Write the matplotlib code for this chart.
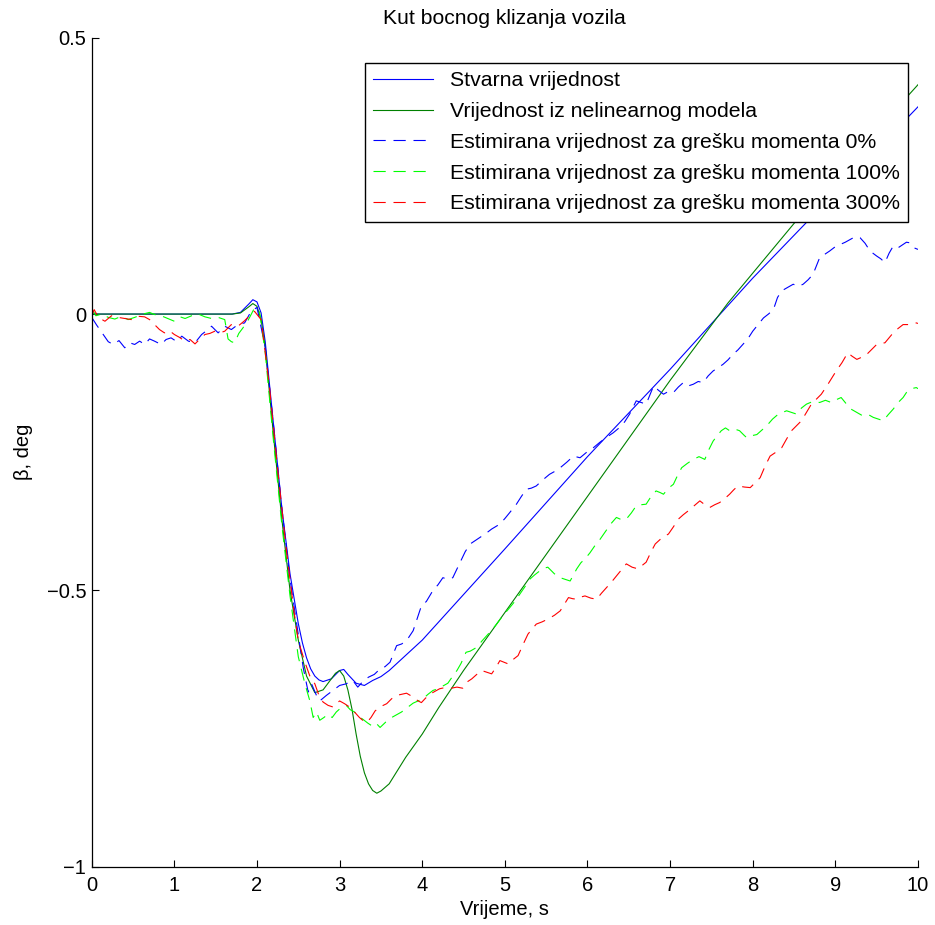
"""
Vehicle sideslip angle: true value, nonlinear model and estimates.
"""

import matplotlib

matplotlib.use("Agg")
import matplotlib.pyplot as plt

# --- solid references -------------------------------------------------------
t_true = [0.0, 1.7, 1.8, 1.9, 1.95, 2.0, 2.05, 2.1, 2.2, 2.3, 2.4, 2.5, 2.55, 2.6,
          2.65, 2.7, 2.75, 2.8, 2.9, 3.0, 3.05, 3.1, 3.2, 3.3, 3.4, 3.5, 3.6, 4.0,
          5.0, 6.0, 7.0, 8.0, 9.0, 10.0]
beta_true = [0.0, 0.0, 0.003, 0.018, 0.026, 0.022, 0.002, -0.05, -0.2, -0.35,
             -0.47, -0.56, -0.595, -0.622, -0.642, -0.655, -0.662, -0.665, -0.66,
             -0.645, -0.643, -0.652, -0.668, -0.672, -0.663, -0.656, -0.645, -0.59,
             -0.425, -0.258, -0.1, 0.065, 0.22, 0.375]

t_model = [0.0, 1.7, 1.8, 1.9, 1.95, 2.0, 2.05, 2.1, 2.2, 2.3, 2.4, 2.5, 2.6, 2.7,
           2.8, 2.9, 2.95, 3.0, 3.05, 3.1, 3.15, 3.2, 3.25, 3.3, 3.35, 3.4, 3.45,
           3.5, 3.6, 3.8, 4.0, 4.2, 4.5, 5.0, 6.0, 7.0, 7.7, 8.5, 9.0, 10.0]
beta_model = [0.0, 0.0, 0.002, 0.013, 0.019, 0.014, -0.01, -0.06, -0.22, -0.37,
              -0.5, -0.59, -0.655, -0.685, -0.68, -0.66, -0.65, -0.645, -0.655,
              -0.68, -0.715, -0.76, -0.8, -0.83, -0.85, -0.862, -0.867, -0.863,
              -0.85, -0.802, -0.76, -0.712, -0.645, -0.54, -0.33, -0.12, 0.02,
              0.164, 0.25, 0.415]

# --- estimate, moment error 0% ---------------------------------------------
t_est0 = [0.0, 0.06, 0.14, 0.2, 0.26, 0.33, 0.40, 0.46, 0.52, 0.58, 0.64, 0.70,
          0.76, 0.84, 0.90, 0.96, 1.03, 1.09, 1.17, 1.25, 1.33, 1.39, 1.45, 1.53,
          1.61, 1.69, 1.77, 1.85, 1.93, 2.0, 2.1, 2.2, 2.3, 2.4, 2.5, 2.56, 2.62,
          2.66, 2.72, 2.76, 2.84, 2.92, 3.0, 3.08, 3.16, 3.22, 3.28, 3.35, 3.42,
          3.49, 3.55, 3.61, 3.69, 3.75, 3.81, 3.89, 3.99, 4.05, 4.13, 4.19, 4.25,
          4.31, 4.37, 4.45, 4.52, 4.58, 4.64, 4.70, 4.77, 4.84, 4.94, 5.0, 5.06,
          5.14, 5.20, 5.26, 5.32, 5.38, 5.46, 5.54, 5.60, 5.67, 5.75, 5.83, 5.91,
          5.99, 6.07, 6.15, 6.23, 6.31, 6.39, 6.45, 6.51, 6.59, 6.65, 6.71, 6.80,
          6.86, 6.92, 6.98, 7.04, 7.10, 7.16, 7.22, 7.28, 7.34, 7.40, 7.46, 7.52,
          7.58, 7.64, 7.70, 7.76, 7.82, 7.88, 7.94, 8.0, 8.06, 8.13, 8.19, 8.25,
          8.30, 8.35, 8.42, 8.49, 8.55, 8.61, 8.67, 8.73, 8.81, 8.87, 8.93, 9.0,
          9.06, 9.12, 9.18, 9.24, 9.30, 9.36, 9.42, 9.50, 9.55, 9.60, 9.65, 9.70,
          9.76, 9.82, 9.86, 9.90, 9.95, 10.0]
beta_est0 = [-0.006, -0.02, -0.037, -0.05, -0.055, -0.048, -0.061, -0.052, -0.055,
             -0.049, -0.055, -0.045, -0.049, -0.055, -0.046, -0.043, -0.05, -0.04,
             -0.049, -0.052, -0.037, -0.03, -0.022, -0.034, -0.022, -0.028, -0.019,
             -0.016, 0.005, 0.012, -0.06, -0.2, -0.35, -0.48, -0.58, -0.64, -0.684,
             -0.669, -0.69, -0.70, -0.69, -0.681, -0.672, -0.669, -0.663, -0.675,
             -0.665, -0.657, -0.652, -0.642, -0.638, -0.630, -0.60, -0.597, -0.591,
             -0.573, -0.528, -0.52, -0.50, -0.49, -0.477, -0.48, -0.477, -0.452,
             -0.43, -0.416, -0.41, -0.404, -0.397, -0.389, -0.38, -0.37, -0.359,
             -0.344, -0.33, -0.317, -0.315, -0.311, -0.30, -0.29, -0.285, -0.278,
             -0.268, -0.257, -0.26, -0.25, -0.242, -0.232, -0.223, -0.215, -0.205,
             -0.195, -0.181, -0.157, -0.16, -0.163, -0.13, -0.138, -0.145, -0.14,
             -0.142, -0.132, -0.124, -0.13, -0.127, -0.122, -0.124, -0.112, -0.103,
             -0.097, -0.091, -0.083, -0.073, -0.065, -0.055, -0.045, -0.031, -0.02,
             -0.007, 0.0, 0.008, 0.03, 0.042, 0.048, 0.054, 0.05, 0.054, 0.062,
             0.072, 0.102, 0.108, 0.114, 0.122, 0.126, 0.13, 0.135, 0.14, 0.138,
             0.128, 0.114, 0.105, 0.1, 0.093, 0.11, 0.123, 0.12, 0.126, 0.13,
             0.129, 0.12, 0.117]

# --- estimate, moment error 100% -------------------------------------------
t_est100 = [0.0, 0.05, 0.12, 0.2, 0.28, 0.36, 0.44, 0.52, 0.62, 0.70, 0.78, 0.84,
            0.92, 1.0, 1.07, 1.13, 1.21, 1.29, 1.37, 1.45, 1.53, 1.61, 1.65, 1.69,
            1.73, 1.78, 1.83, 1.89, 1.97, 2.03, 2.1, 2.2, 2.3, 2.4, 2.5, 2.58,
            2.64, 2.68, 2.72, 2.76, 2.81, 2.86, 2.91, 2.96, 3.02, 3.08, 3.13, 3.18,
            3.23, 3.28, 3.34, 3.39, 3.44, 3.49, 3.56, 3.63, 3.69, 3.75, 3.82, 3.89,
            3.95, 4.01, 4.07, 4.13, 4.19, 4.25, 4.31, 4.37, 4.42, 4.47, 4.53, 4.58,
            4.66, 4.72, 4.78, 4.84, 4.90, 4.98, 5.06, 5.12, 5.18, 5.24, 5.30, 5.36,
            5.42, 5.47, 5.52, 5.60, 5.67, 5.73, 5.79, 5.87, 5.92, 5.97, 6.03, 6.09,
            6.15, 6.21, 6.28, 6.35, 6.41, 6.47, 6.53, 6.59, 6.65, 6.71, 6.77, 6.83,
            6.88, 6.92, 6.98, 7.04, 7.09, 7.14, 7.21, 7.28, 7.35, 7.42, 7.47, 7.52,
            7.57, 7.62, 7.67, 7.72, 7.78, 7.84, 7.90, 7.93, 7.99, 8.05, 8.11, 8.17,
            8.24, 8.31, 8.36, 8.41, 8.47, 8.53, 8.59, 8.65, 8.73, 8.81, 8.88, 8.95,
            9.01, 9.07, 9.13, 9.19, 9.26, 9.33, 9.40, 9.46, 9.52, 9.58, 9.64, 9.70,
            9.76, 9.82, 9.86, 9.92, 9.98, 10.0]
beta_est100 = [0.01, -0.003, 0.0, -0.006, -0.009, -0.004, -0.01, -0.006, 0.0, 0.003,
               -0.002, -0.003, -0.008, -0.013, -0.005, -0.008, -0.003, 0.0, -0.005,
               -0.008, -0.006, -0.01, -0.045, -0.05, -0.052, -0.035, -0.025, -0.012,
               0.011, 0.005, -0.07, -0.23, -0.38, -0.51, -0.62, -0.669, -0.70, -0.73,
               -0.72, -0.735, -0.73, -0.724, -0.73, -0.72, -0.712, -0.708, -0.716,
               -0.72, -0.728, -0.733, -0.74, -0.745, -0.74, -0.748, -0.738, -0.73,
               -0.725, -0.72, -0.712, -0.704, -0.70, -0.696, -0.688, -0.681, -0.678,
               -0.673, -0.668, -0.655, -0.645, -0.632, -0.612, -0.61, -0.603, -0.592,
               -0.582, -0.572, -0.561, -0.545, -0.531, -0.52, -0.507, -0.494, -0.48,
               -0.472, -0.465, -0.46, -0.458, -0.47, -0.477, -0.48, -0.483, -0.461,
               -0.45, -0.443, -0.432, -0.419, -0.408, -0.395, -0.38, -0.368, -0.372,
               -0.371, -0.36, -0.347, -0.345, -0.344, -0.33, -0.32, -0.323, -0.326,
               -0.315, -0.308, -0.292, -0.278, -0.27, -0.263, -0.258, -0.263, -0.245,
               -0.23, -0.22, -0.211, -0.206, -0.211, -0.208, -0.211, -0.22, -0.224,
               -0.22, -0.218, -0.21, -0.202, -0.19, -0.181, -0.178, -0.175, -0.178,
               -0.181, -0.17, -0.163, -0.158, -0.16, -0.156, -0.16, -0.155, -0.151,
               -0.162, -0.172, -0.178, -0.184, -0.182, -0.187, -0.19, -0.193, -0.182,
               -0.172, -0.16, -0.151, -0.142, -0.135, -0.133, -0.135]

# --- estimate, moment error 300% -------------------------------------------
t_est300 = [0.0, 0.03, 0.08, 0.16, 0.24, 0.32, 0.40, 0.48, 0.56, 0.64, 0.70, 0.76,
            0.82, 0.88, 0.94, 1.0, 1.06, 1.13, 1.19, 1.25, 1.31, 1.37, 1.43, 1.49,
            1.55, 1.61, 1.69, 1.77, 1.85, 1.93, 1.97, 2.05, 2.15, 2.25, 2.35, 2.45,
            2.50, 2.58, 2.64, 2.70, 2.75, 2.80, 2.86, 2.92, 2.96, 3.0, 3.06, 3.12,
            3.18, 3.24, 3.28, 3.33, 3.38, 3.43, 3.50, 3.57, 3.63, 3.69, 3.75, 3.81,
            3.89, 3.95, 3.99, 4.04, 4.09, 4.15, 4.21, 4.27, 4.35, 4.42, 4.49, 4.55,
            4.60, 4.66, 4.72, 4.78, 4.84, 4.89, 4.94, 4.99, 5.04, 5.10, 5.16, 5.22,
            5.28, 5.33, 5.38, 5.45, 5.52, 5.60, 5.67, 5.72, 5.77, 5.82, 5.87, 5.92,
            5.97, 6.04, 6.11, 6.17, 6.23, 6.29, 6.35, 6.41, 6.47, 6.54, 6.61, 6.66,
            6.71, 6.77, 6.82, 6.90, 6.98, 7.04, 7.10, 7.16, 7.22, 7.29, 7.36, 7.42,
            7.48, 7.54, 7.60, 7.66, 7.72, 7.77, 7.82, 7.90, 7.97, 8.03, 8.09, 8.15,
            8.21, 8.28, 8.35, 8.41, 8.47, 8.53, 8.59, 8.65, 8.71, 8.77, 8.83, 8.91,
            8.96, 9.01, 9.08, 9.15, 9.20, 9.26, 9.32, 9.38, 9.44, 9.50, 9.55, 9.60,
            9.65, 9.70, 9.76, 9.82, 9.87, 9.92, 9.98, 10.0]
beta_est300 = [-0.003, 0.008, -0.006, -0.013, -0.003, -0.006, -0.008, -0.01, -0.004,
               -0.005, -0.01, -0.019, -0.028, -0.034, -0.03, -0.037, -0.042, -0.049,
               -0.046, -0.054, -0.045, -0.037, -0.035, -0.031, -0.034, -0.031, -0.019,
               -0.022, -0.012, 0.0, 0.005, -0.01, -0.13, -0.28, -0.42, -0.54, -0.591,
               -0.63, -0.655, -0.669, -0.69, -0.702, -0.708, -0.711, -0.705, -0.70,
               -0.705, -0.711, -0.72, -0.73, -0.735, -0.739, -0.73, -0.718, -0.71,
               -0.705, -0.696, -0.69, -0.688, -0.686, -0.693, -0.70, -0.703, -0.695,
               -0.688, -0.683, -0.678, -0.676, -0.677, -0.675, -0.677, -0.665, -0.66,
               -0.652, -0.645, -0.648, -0.651, -0.64, -0.627, -0.63, -0.633, -0.625,
               -0.618, -0.598, -0.579, -0.57, -0.561, -0.557, -0.552, -0.545, -0.537,
               -0.525, -0.513, -0.515, -0.516, -0.512, -0.51, -0.514, -0.516, -0.505,
               -0.495, -0.485, -0.474, -0.463, -0.452, -0.458, -0.461, -0.455, -0.449,
               -0.43, -0.416, -0.405, -0.398, -0.385, -0.371, -0.363, -0.356, -0.347,
               -0.338, -0.345, -0.35, -0.345, -0.341, -0.334, -0.326, -0.318, -0.311,
               -0.313, -0.314, -0.305, -0.296, -0.275, -0.257, -0.25, -0.242, -0.226,
               -0.211, -0.202, -0.193, -0.178, -0.163, -0.154, -0.145, -0.127, -0.115,
               -0.103, -0.088, -0.07, -0.076, -0.082, -0.078, -0.073, -0.064, -0.055,
               -0.053, -0.052, -0.043, -0.034, -0.026, -0.019, -0.019, -0.019, -0.016,
               -0.017]

labels = [
    "Stvarna vrijednost",
    "Vrijednost iz nelinearnog modela",
    "Estimirana vrijednost za grešku momenta 0%",
    "Estimirana vrijednost za grešku momenta 100%",
    "Estimirana vrijednost za grešku momenta 300%",
]
x_ticks = [0, 1, 2, 3, 4, 5, 6, 7, 8, 9, 10]
y_ticks = [-1, -0.5, 0, 0.5]
y_tick_labels = ["\u22121", "\u22120.5", "0", "0.5"]


def plot_sideslip():
    plt.rcParams["font.family"] = ["Liberation Sans", "DejaVu Sans"]
    fs = 14.5

    fig = plt.figure(figsize=(9.35, 9.25), dpi=100)
    ax = fig.add_axes([0.0981, 0.0630, 0.8837, 0.8962])

    dash = (0, (11, 7))
    lw = 0.8
    ax.plot(t_true, beta_true, color="#0000ff", lw=lw, label=labels[0])
    ax.plot(t_model, beta_model, color="#008000", lw=lw, label=labels[1])
    ax.plot(t_est0, beta_est0, color="#0000ff", lw=lw, ls=dash, label=labels[2])
    ax.plot(t_est100, beta_est100, color="#00ff00", lw=lw, ls=dash, label=labels[3])
    ax.plot(t_est300, beta_est300, color="#ff0000", lw=lw, ls=dash, label=labels[4])

    ax.set_xlim(0, 10)
    ax.set_ylim(-1, 0.5)
    ax.set_xticks(x_ticks)
    ax.set_yticks(y_ticks)
    ax.set_yticklabels(y_tick_labels)
    ax.tick_params(direction="in", length=5, width=0.8, labelsize=fs)
    ax.tick_params(axis="x", pad=7)
    ax.tick_params(axis="y", pad=4)

    ax.spines["top"].set_visible(False)
    ax.spines["right"].set_visible(False)
    ax.spines["left"].set_linewidth(0.9)
    ax.spines["bottom"].set_linewidth(0.9)

    ax.set_title("Kut bocnog klizanja vozila", fontsize=15.2, pad=10)
    ax.set_xlabel("Vrijeme, s", fontsize=fs, labelpad=3)
    ax.set_ylabel("\u03b2, deg", fontsize=fs, labelpad=10)

    # legend box roughly at x 360..908, y 63..221 px
    leg = ax.legend(
        loc="upper right",
        bbox_to_anchor=(908 / 935, 1 - 63 / 925),
        bbox_transform=fig.transFigure,
        fontsize=15.3,
        fancybox=False,
        framealpha=1,
        edgecolor="black",
        handlelength=2.8,
        handletextpad=0.8,
        borderpad=0.4,
        labelspacing=0.55,
        borderaxespad=0,
    )
    leg.get_frame().set_linewidth(1.0)

    fig.savefig("out.png", dpi=100)


if __name__ == "__main__":
    plot_sideslip()
